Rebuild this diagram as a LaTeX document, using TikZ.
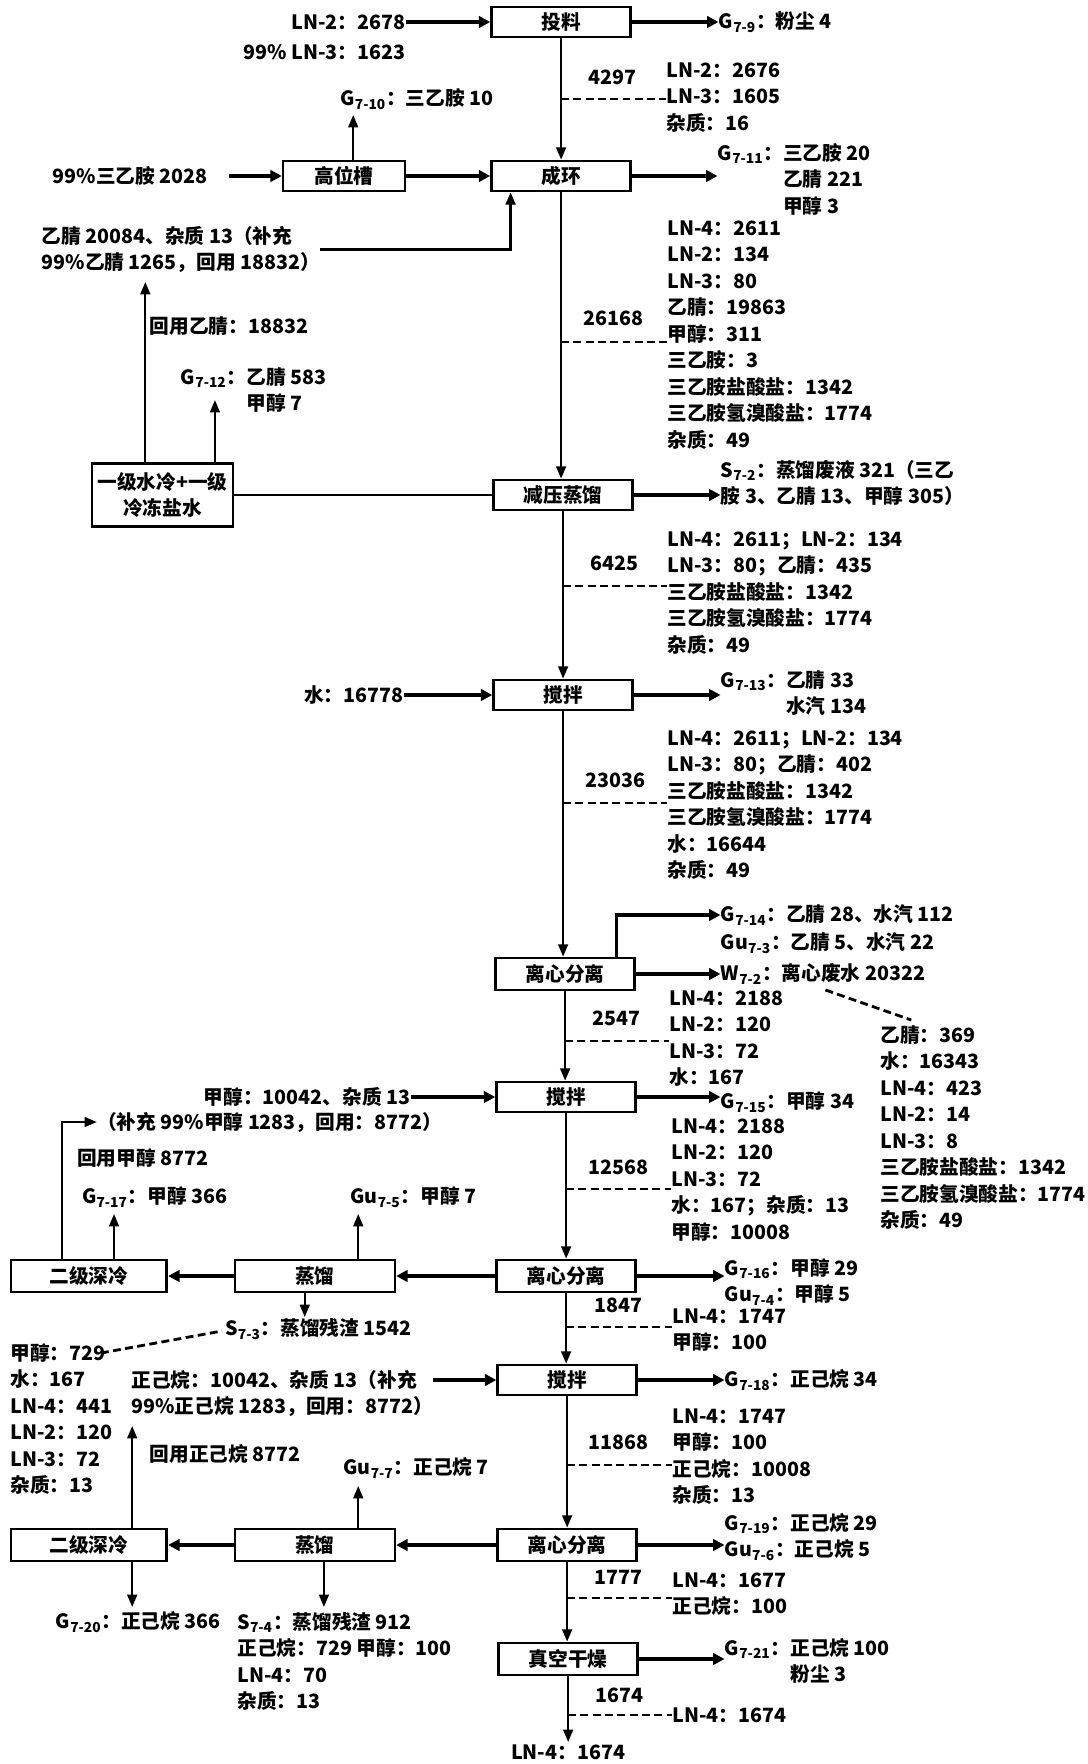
\documentclass[tikz,border=0pt]{standalone}
\usepackage{fontspec}
\setmainfont{Noto Sans CJK SC}
\usetikzlibrary{arrows.meta}
\newcommand\mystrut{\rule[-0.12em]{0pt}{1em}}
\newcommand\sub[1]{\textsubscript{#1}}
\begin{document}
\begin{tikzpicture}[x=0.02018cm,y=-0.02cm,
  font=\fontsize{11.2}{15.1}\selectfont\bfseries,
  every node/.style={inner sep=0pt, execute at begin node=\mystrut},
  box/.style={draw, line width=1.5pt, minimum width=2.78cm, minimum height=0.6cm},
  lbl/.style={anchor=north west, align=left},
  thk/.style={line width=1.9pt, -{Triangle[length=6.5pt,width=6.5pt]}},
  thin/.style={line width=1.3pt, -{Triangle[length=7pt,width=5.5pt]}},
  mid/.style={line width=1.3pt, -{Triangle[length=7pt,width=5.5pt]}},
  dsh/.style={line width=1.6pt, dash pattern=on 4.5pt off 2.5pt}]
\path[fill=white,use as bounding box] (0,0) rectangle (1077.3,1764);

% main boxes
\node[box] (T) at (556,22) {投料};
\node[box] (H) at (556,176) {成环};
\node[box, minimum width=2.44cm] (G) at (341,176) {高位槽};
\node[box] (R) at (558,495) {减压蒸馏};
\node[box] (J1) at (558,695) {搅拌};
\node[box, minimum height=0.64cm] (S1) at (560,974) {离心分离};
\node[box] (J2) at (561,1097) {搅拌};
\node[box, minimum height=0.64cm] (S2) at (561,1276) {离心分离};
\node[box, minimum width=3.2cm, minimum height=0.64cm] (Z1) at (312,1276) {蒸馏};
\node[box, minimum width=3.12cm, minimum height=0.64cm] (D1) at (88,1276) {二级深冷};
\node[box] (J3) at (562,1380) {搅拌};
\node[box, minimum height=0.64cm] (S3) at (562,1545) {离心分离};
\node[box, minimum width=3.2cm, minimum height=0.64cm] (Z2) at (312,1545) {蒸馏};
\node[box, minimum width=3.12cm, minimum height=0.64cm] (D2) at (88,1545) {二级深冷};
\node[box, minimum height=0.64cm] (V) at (563,1659) {真空干燥};
\node[box, minimum width=2.82cm, minimum height=1.26cm, align=center] (C1) at (161,495) {一级水冷+一级\\冷冻盐水};

% top
\node[anchor=east] (i1) at (402,22) {LN-2：2678};
\node[anchor=east] (i2) at (402,52) {99\% LN-3：1623};
\draw[thk] (i1.east) -- (T.west);
\node[anchor=west] (o1) at (712,22) {G\sub{7-9}：粉尘 4};
\draw[thk] (T.east) -- (o1.west);
\draw[thin] (T.south) -- (T.south |- H.north);
\node (n1) at (607,77) {4297};
\node[lbl] (b1) at (660,62) {LN-2：2676\\LN-3：1605\\杂质：16};
\coordinate (q1) at (660,99);
\draw[dsh] (T.south |- q1) -- (q1);

\node[anchor=east] (i3) at (206,176) {99\%三乙胺 2028};
\draw[thk] ([xshift=0.42cm]i3.east) -- (G.west);
\draw[thk] (G.east) -- (H.west);
\coordinate (c710) at (350,115);
\draw[mid] (G.north -| c710) -- (c710);
\node[anchor=west] (o2) at (337,99) {G\sub{7-10}：三乙胺 10};
\node[lbl] (o3) at (711,143) {G\sub{7-11}：三乙胺 20\\\phantom{G\sub{7-11}：}乙腈 221\\\phantom{G\sub{7-11}：}甲醇 3};
\draw[thk] (H.east) -- (H.east -| o3.west);

% acetonitrile recycle
\node[lbl] (rc) at (41,226) {乙腈 20084、杂质 13（补充\\99\%乙腈 1265，回用 18832）};
\draw[mid, line width=1.5pt] (rc.east) -| ([xshift=-1.01cm]H.south);
\coordinate (c1a) at (144,282);
\draw[mid] (C1.north -| c1a) -- (c1a);
\node[anchor=west] (l1) at (148,326) {回用乙腈：18832};
\coordinate (c1b) at (213,400);
\draw[mid] (C1.north -| c1b) -- (c1b);
\node[lbl] (o4) at (179,367) {G\sub{7-12}：乙腈 583\\\phantom{G\sub{7-12}：}甲醇 7};
\draw[line width=1.3pt] (C1.east) -- (R.west);

\draw[thin] (H.south) -- (H.south |- R.north);
\node (n2) at (608,318) {26168};
\node[lbl] (b2) at (661,220) {LN-4：2611\\LN-2：134\\LN-3：80\\乙腈：19863\\甲醇：311\\三乙胺：3\\三乙胺盐酸盐：1342\\三乙胺氢溴酸盐：1774\\杂质：49};
\coordinate (q2) at (661,342);
\draw[dsh] (H.south |- q2) -- (q2);

\node[lbl] (o5) at (714,460) {S\sub{7-2}：蒸馏废液 321（三乙\\胺 3、乙腈 13、甲醇 305）};
\draw[thk] (R.east) -- (R.east -| o5.west);

\draw[thin] (R.south) -- (R.south |- J1.north);
\node (n3) at (609,563) {6425};
\node[lbl] (b3) at (661,531) {LN-4：2611；LN-2：134\\LN-3：80；乙腈：435\\三乙胺盐酸盐：1342\\三乙胺氢溴酸盐：1774\\杂质：49};
\coordinate (q3) at (661,586);
\draw[dsh] (R.south |- q3) -- (q3);

\node[anchor=east] (i4) at (400,695) {水：16778};
\draw[thk] (i4.east) -- (J1.west);
\node[lbl] (o6) at (714,670) {G\sub{7-13}：乙腈 33\\\phantom{G\sub{7-13}：}水汽 134};
\draw[thk] (J1.east) -- (J1.east -| o6.west);

\draw[thin] (J1.south) -- (J1.south |- S1.north);
\node (n4) at (610,780) {23036};
\node[lbl] (b4) at (661,730) {LN-4：2611；LN-2：134\\LN-3：80；乙腈：402\\三乙胺盐酸盐：1342\\三乙胺氢溴酸盐：1774\\水：16644\\杂质：49};
\coordinate (q4) at (661,803);
\draw[dsh] (J1.south |- q4) -- (q4);

% first centrifuge
\node[anchor=west] (o7) at (714,915) {G\sub{7-14}：乙腈 28、水汽 112};
\node[anchor=west] (o8) at (714,943) {Gu\sub{7-3}：乙腈 5、水汽 22};
\draw[thk] ([xshift=1.03cm]S1.north) |- (o7.west);
\node[anchor=west] (o9) at (714,974) {W\sub{7-2}：离心废水 20322};
\draw[thk] (S1.east) -- (o9.west);
\coordinate (w1) at (818,990);
\coordinate (w2) at (903,1020);
\draw[dsh] (w1) -- (w2);
\node[lbl] (b6) at (872,1025) {乙腈：369\\水：16343\\LN-4：423\\LN-2：14\\LN-3：8\\三乙胺盐酸盐：1342\\三乙胺氢溴酸盐：1774\\杂质：49};

\draw[thin] (S1.south) -- (S1.south |- J2.north);
\node (n5) at (611,1018) {2547};
\node[lbl] (b5) at (663,990) {LN-4：2188\\LN-2：120\\LN-3：72\\水：167};
\coordinate (q5) at (663,1041);
\draw[dsh] (S1.south |- q5) -- (q5);

% methanol stage
\node[anchor=east] (i5) at (407,1097) {甲醇：10042、杂质 13};
\draw[thk] (i5.east) -- (J2.west);
\node[anchor=west] (i6) at (96,1122) {（补充 99\%甲醇 1283，回用：8772）};
\draw[mid] ([xshift=-0.53cm]D1.north) |- (i6.west);
\node[anchor=west] (l2) at (76,1158) {回用甲醇 8772};
\node[anchor=west] (o10) at (714,1102) {G\sub{7-15}：甲醇 34};
\draw[thk] (J2.east) -- (J2.east -| o10.west);

\draw[thin] (J2.south) -- (J2.south |- S2.north);
\node (n6) at (613,1167) {12568};
\node[lbl] (b7) at (665,1118) {LN-4：2188\\LN-2：120\\LN-3：72\\水：167；杂质：13\\甲醇：10008};
\coordinate (q6) at (665,1189);
\draw[dsh] (J2.south |- q6) -- (q6);

\node[anchor=west] (o11) at (81,1197) {G\sub{7-17}：甲醇 366};
\coordinate (c717) at (113,1214);
\draw[mid] (D1.north -| c717) -- (c717);
\node[anchor=west] (o12) at (347,1197) {Gu\sub{7-5}：甲醇 7};
\coordinate (c75) at (355,1214);
\draw[mid] (Z1.north -| c75) -- (c75);
\draw[thk] (S2.west) -- (Z1.east);
\draw[thk] (Z1.west) -- (D1.east);
\node[lbl] (o13) at (718,1258) {G\sub{7-16}：甲醇 29\\Gu\sub{7-4}：甲醇 5};
\draw[thk] (S2.east) -- (S2.east -| o13.west);

\draw[thin] (S2.south) -- (S2.south |- J3.north);
\node (n7) at (613,1305) {1847};
\node[lbl] (b8) at (666,1308) {LN-4：1747\\甲醇：100};
\coordinate (q7) at (666,1327);
\draw[dsh] (S2.south |- q7) -- (q7);

\coordinate (c73) at (302,1317);
\draw[mid] (Z1.south -| c73) -- (c73);
\node[anchor=west] (o14) at (223,1329) {S\sub{7-3}：蒸馏残渣 1542};
\node[lbl] (b12) at (10,1343) {甲醇：729\\水：167\\LN-4：441\\LN-2：120\\LN-3：72\\杂质：13};
\coordinate (s1) at (100,1353);
\coordinate (s2) at (220,1331);
\draw[dsh] (s1) -- (s2);

% hexane stage
\node[lbl] (i7) at (130,1370) {正己烷：10042、杂质 13（补充\\99\%正己烷 1283，回用：8772）};
\draw[thk] (J3.west -| i7.east) -- (J3.west);
\node[anchor=west] (o15) at (718,1380) {G\sub{7-18}：正己烷 34};
\draw[thk] (J3.east) -- (o15.west);

\draw[thin] (J3.south) -- (J3.south |- S3.north);
\node (n8) at (613,1442) {11868};
\node[lbl] (b9) at (666,1408) {LN-4：1747\\甲醇：100\\正己烷：10008\\杂质：13};
\coordinate (q8) at (666,1465);
\draw[dsh] (J3.south |- q8) -- (q8);

\coordinate (c2a) at (131,1426);
\draw[mid] (D2.north -| c2a) -- (c2a);
\node[anchor=west] (l3) at (148,1454) {回用正己烷 8772};
\coordinate (c77) at (355,1486);
\draw[mid] (Z2.north -| c77) -- (c77);
\node[anchor=west] (o16) at (340,1468) {Gu\sub{7-7}：正己烷 7};
\draw[thk] (S3.west) -- (Z2.east);
\draw[thk] (Z2.west) -- (D2.east);
\node[lbl] (o17) at (718,1513) {G\sub{7-19}：正己烷 29\\Gu\sub{7-6}：正己烷 5};
\draw[thk] (S3.east) -- (S3.east -| o17.west);

\coordinate (c720) at (131,1607);
\draw[mid] (D2.south -| c720) -- (c720);
\node[anchor=west] (o18) at (55,1622) {G\sub{7-20}：正己烷 366};
\coordinate (c74) at (321,1607);
\draw[mid] (Z2.south -| c74) -- (c74);
\node[lbl] (o19) at (235,1612) {S\sub{7-4}：蒸馏残渣 912\\正己烷：729 甲醇：100\\LN-4：70\\杂质：13};

\draw[thin] (S3.south) -- (S3.south |- V.north);
\node (n9) at (613,1577) {1777};
\node[lbl] (b10) at (666,1572) {LN-4：1677\\正己烷：100};
\coordinate (q9) at (666,1598);
\draw[dsh] (S3.south |- q9) -- (q9);

\node[lbl] (o20) at (718,1638) {G\sub{7-21}：正己烷 100\\\phantom{G\sub{7-21}：}粉尘 3};
\draw[thk] (V.east) -- (V.east -| o20.west);

\node (n10) at (614,1695) {1674};
\node[anchor=west] (b11) at (666,1715) {LN-4：1674};
\draw[dsh] (V.south |- b11.west) -- (b11.west);
\node[anchor=north] (out) at (563,1742) {LN-4：1674};
\draw[thin] (V.south) -- (out.north);
\end{tikzpicture}
\end{document}
